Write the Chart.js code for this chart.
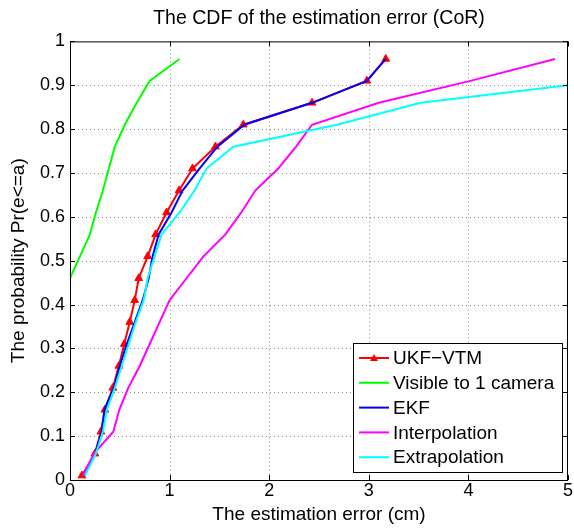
<!DOCTYPE html>
<html>
<head>
<meta charset="utf-8">
<script src="https://cdn.jsdelivr.net/npm/chart.js@4/dist/chart.umd.min.js"></script>
<style>
  body { margin: 0; background: #fff; }
  canvas { display: block; }
</style>
</head>
<body>
<canvas id="cdf-chart" width="574" height="528"></canvas>
<script>
// CDF levels shared by most curves
const cdfLevels = [0.01, 0.06, 0.11, 0.16, 0.21, 0.26, 0.31, 0.36, 0.41, 0.46,
                   0.51, 0.56, 0.61, 0.66, 0.71, 0.76, 0.81, 0.86, 0.91, 0.96];

const ukfErr = [0.12, 0.25, 0.31, 0.35, 0.43, 0.49, 0.545, 0.60, 0.65, 0.69,
                0.78, 0.86, 0.97, 1.095, 1.23, 1.46, 1.74, 2.43, 2.98, 3.17];
const ekfErr = [0.13, 0.25, 0.32, 0.345, 0.44, 0.50, 0.57, 0.65, 0.73, 0.79,
                0.83, 0.89, 1.02, 1.13, 1.30, 1.48, 1.75, 2.43, 2.98, 3.17];
const interpErr = [0.13, 0.24, 0.435, 0.495, 0.585, 0.70, 0.80, 0.90, 1.00, 1.17,
                   1.34, 1.56, 1.72, 1.86, 2.09, 2.27, 2.43, 3.10, 4.02, 4.87];
const extrapErr = [0.15, 0.26, 0.33, 0.37, 0.45, 0.52, 0.59, 0.66, 0.74, 0.78,
                   0.85, 0.92, 1.10, 1.25, 1.37, 1.64, 2.68, 3.52, 5.37];

// single camera curve has its own points
const visErr = [0, 0, 0.10, 0.20, 0.26, 0.33, 0.39, 0.45, 0.55, 0.67, 0.80, 1.10];
const visProb = [0.01, 0.46, 0.51, 0.56, 0.61, 0.66, 0.71, 0.76, 0.81, 0.86, 0.91, 0.96];

const xTickValues = [0, 1, 2, 3, 4, 5];
const yTickValues = [0, 0.1, 0.2, 0.3, 0.4, 0.5, 0.6, 0.7, 0.8, 0.9, 1];

const FONT = "'Liberation Sans', Arial, Helvetica, sans-serif";

function pts(xs, ys) {
    return xs.map((x, i) => ({ x: x, y: ys[i] }));
}

// dotted grid under the curves
const gridPlugin = {
    id: 'dotgrid',
    beforeDatasetsDraw(chart) {
        const ctx = chart.ctx;
        const a = chart.chartArea;
        const xs = chart.scales.x, ys = chart.scales.y;
        ctx.save();
        ctx.strokeStyle = '#8a8a8a';
        ctx.lineWidth = 1;
        ctx.setLineDash([1, 3]);
        ctx.beginPath();
        xTickValues.slice(1, -1).forEach(v => {
            const px = Math.round(xs.getPixelForValue(v)) + 0.5;
            ctx.moveTo(px, a.top); ctx.lineTo(px, a.bottom);
        });
        yTickValues.slice(1, -1).forEach(v => {
            const py = Math.round(ys.getPixelForValue(v)) + 0.5;
            ctx.moveTo(a.left, py); ctx.lineTo(a.right, py);
        });
        ctx.stroke();
        ctx.restore();
    }
};

// frame, inward ticks and the legend box
const framePlugin = {
    id: 'frame',
    afterDraw(chart) {
        const ctx = chart.ctx;
        const a = chart.chartArea;
        const xs = chart.scales.x, ys = chart.scales.y;
        ctx.save();
        ctx.strokeStyle = '#000';
        ctx.lineWidth = 1;
        ctx.setLineDash([]);
        ctx.strokeRect(a.left + 0.5, a.top + 0.5, a.right - a.left - 1, a.bottom - a.top);
        ctx.beginPath();
        xTickValues.forEach(v => {
            const px = Math.round(xs.getPixelForValue(v)) + 0.5;
            ctx.moveTo(px, a.bottom); ctx.lineTo(px, a.bottom - 5);
            ctx.moveTo(px, a.top); ctx.lineTo(px, a.top + 5);
        });
        yTickValues.forEach(v => {
            const py = Math.round(ys.getPixelForValue(v)) + 0.5;
            ctx.moveTo(a.left, py); ctx.lineTo(a.left + 5, py);
            ctx.moveTo(a.right, py); ctx.lineTo(a.right - 5, py);
        });
        ctx.stroke();

        // legend
        const bx = 353, by = 343, bw = 209, bh = 129;
        ctx.fillStyle = '#fff';
        ctx.fillRect(bx, by, bw, bh);
        ctx.strokeRect(bx + 0.5, by + 0.5, bw, bh);
        ctx.font = '19px ' + FONT;
        ctx.textBaseline = 'middle';
        chart.data.datasets.forEach((ds, i) => {
            const y = by + 15 + i * 24.8;
            ctx.strokeStyle = ds.borderColor;
            ctx.lineWidth = 2;
            ctx.beginPath();
            ctx.moveTo(359, y); ctx.lineTo(389, y);
            ctx.stroke();
            if (ds.pointRadius > 0) {
                ctx.fillStyle = ds.borderColor;
                ctx.beginPath();
                ctx.moveTo(374, y - 4); ctx.lineTo(378, y + 3); ctx.lineTo(370, y + 3);
                ctx.closePath();
                ctx.fill();
            }
            ctx.fillStyle = '#000';
            ctx.fillText(ds.label, 393, y + 1);
        });
        ctx.restore();
    }
};

const ctx = document.getElementById('cdf-chart').getContext('2d');
new Chart(ctx, {
    type: 'scatter',
    data: {
        datasets: [
            { label: 'UKF\u2212VTM', data: pts(ukfErr, cdfLevels), borderColor: '#ff0000',
              backgroundColor: '#ff0000', pointStyle: 'triangle', pointRadius: 4.5, order: 5 },
            { label: 'Visible to 1 camera', data: pts(visErr, visProb), borderColor: '#00ff00',
              backgroundColor: '#00ff00', pointRadius: 0, order: 4 },
            { label: 'EKF', data: pts(ekfErr, cdfLevels), borderColor: '#0000ff',
              backgroundColor: '#0000ff', pointRadius: 0, order: 3 },
            { label: 'Interpolation', data: pts(interpErr, cdfLevels), borderColor: '#ff00ff',
              backgroundColor: '#ff00ff', pointRadius: 0, order: 2 },
            { label: 'Extrapolation', data: pts(extrapErr, cdfLevels.slice(0, extrapErr.length)),
              borderColor: '#00ffff', backgroundColor: '#00ffff', pointRadius: 0, order: 1 }
        ]
    },
    options: {
        responsive: false,
        animation: false,
        showLine: true,
        elements: { line: { borderWidth: 2, tension: 0 }, point: { borderWidth: 1 } },
        layout: { padding: { left: 0, right: 6, top: 0, bottom: 0 } },
        plugins: {
            legend: { display: false },
            tooltip: { enabled: false },
            title: {
                display: true,
                fullSize: false,
                text: 'The CDF of the estimation error (CoR)',
                color: '#000',
                font: { family: FONT, size: 19.5, weight: 'normal' },
                padding: { top: 7, bottom: 11 }
            }
        },
        scales: {
            x: {
                type: 'linear', min: 0, max: 5,
                afterBuildTicks: s => { s.ticks = xTickValues.map(v => ({ value: v })); },
                afterFit: s => { s.height = 48; },
                ticks: { color: '#000', font: { family: FONT, size: 18 }, padding: 0,
                         maxRotation: 0, callback: v => String(v) },
                grid: { display: false, drawTicks: false },
                border: { display: false },
                title: { display: true, text: 'The estimation error (cm)', color: '#000',
                         font: { family: FONT, size: 19 }, padding: { top: 0, bottom: 2 } }
            },
            y: {
                type: 'linear', min: 0, max: 1,
                afterBuildTicks: s => { s.ticks = yTickValues.map(v => ({ value: v })); },
                afterFit: s => { s.width = 70; },
                ticks: { color: '#000', font: { family: FONT, size: 18 }, padding: 5,
                         callback: v => String(v) },
                grid: { display: false, drawTicks: false },
                border: { display: false },
                title: { display: true, text: 'The probability Pr(e<=a)', color: '#000',
                         font: { family: FONT, size: 19 }, padding: { top: 7, bottom: 0 } }
            }
        }
    },
    plugins: [gridPlugin, framePlugin]
});
</script>
</body>
</html>
